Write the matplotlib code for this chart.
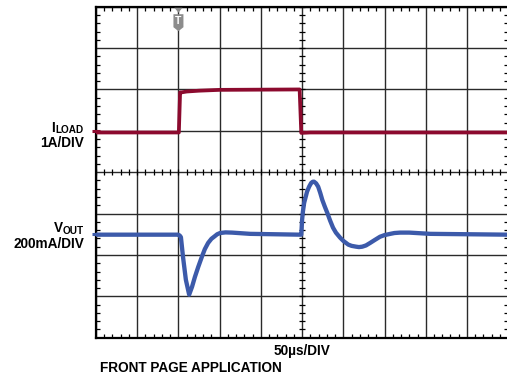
import numpy as np
import matplotlib
matplotlib.use("Agg")
import matplotlib.pyplot as plt
from matplotlib.patches import Polygon

plt.rcParams['font.family'] = ['Liberation Sans', 'DejaVu Sans']

# Scope settings
US_PER_DIV = 50          # time base, µs/div
N_HDIV, N_VDIV = 10, 8   # graticule divisions
T_TRIGGER = 100          # trigger position, µs

# Channel 1: load current (A), 1 A/div, ground at division 5
ILOAD_ZERO_DIV = 5.0
ILOAD_A_PER_DIV = 1.0
iload_t = [0, 100.5, 102, 104, 110, 125, 150, 247, 249, 260, 500]
iload_a = [-0.04, -0.04, 0.93, 0.93, 0.95, 0.97, 0.99, 1.0, -0.05, -0.04, -0.04]

# Channel 2: output voltage deviation (mV), 200 mV/div, ground at division 2.5
VOUT_ZERO_DIV = 2.5
VOUT_MV_PER_DIV = 200
vout_t = [0, 99.5, 101.5, 103, 105.5, 109, 113, 116.5, 120, 124, 128.5, 132,
          136, 140, 144.5, 147, 150.5, 157, 165, 187, 247.5,
          249, 250, 251, 252.5, 256, 258.5, 261, 263, 264.5, 267, 269.5, 272,
          274.5, 277.5, 280.5, 284, 287.5, 291, 296, 300, 306, 310, 315.5, 319,
          323, 327.5, 332.5, 338, 344.5, 350, 357, 362, 369, 380, 405.5, 500]
vout_mv = [-2, -2, -6, -14, -108, -220, -292, -254, -206, -158, -108, -72,
           -42, -22, -8, 0, 6, 9, 8, 2, -2,
           -2, 70, 110, 152, 206, 230, 248, 254, 254, 246, 230, 200,
           166, 134, 104, 66, 32, 8, -16, -32, -50, -56, -60, -62,
           -60, -54, -42, -28, -12, -4, 2, 6, 8, 8, 2, -2]

RED = '#8c0a2e'
BLUE = '#3c5aaa'
GRID = '#2a2a2a'

W, H = 507, 375
fig = plt.figure(figsize=(W / 100, H / 100), dpi=100)
ax = fig.add_axes([96 / W, (H - 337.7) / H, 412.2 / W, 331 / H])
ax.set_xlim(0, N_HDIV * US_PER_DIV)
ax.set_ylim(0, N_VDIV)

# Graticule
ax.set_xticks(np.arange(0, N_HDIV * US_PER_DIV + 1, US_PER_DIV))
ax.set_yticks(np.arange(0, N_VDIV + 1, 1))
ax.set_xticks(np.arange(0, N_HDIV * US_PER_DIV + 1, US_PER_DIV / 5), minor=True)
ax.set_yticks(np.arange(0, N_VDIV + 0.01, 0.2), minor=True)
ax.grid(True, which='major', color=GRID, lw=1.0)
ax.tick_params(which='major', length=0, labelbottom=False, labelleft=False)
ax.tick_params(which='minor', direction='in', length=3.0, width=0.9, color='k',
               top=True, right=True, bottom=True, left=True)
for s in ax.spines.values():
    s.set_linewidth(1.6)
    s.set_color('k')

# Minor ticks on the centre cross-hair
xc = N_HDIV * US_PER_DIV / 2
yc = N_VDIV / 2
xm = np.arange(0, N_HDIV * US_PER_DIV + 1, US_PER_DIV / 5)
ym = np.arange(0, N_VDIV + 0.01, 0.2)
ax.plot(xm, np.full_like(xm, yc), ls='none', marker='|', ms=4.6, mew=0.9, color='k')
ax.plot(np.full_like(ym, xc), ym, ls='none', marker='_', ms=4.6, mew=0.9, color='k')

# Traces
iload_y = ILOAD_ZERO_DIV + np.array(iload_a) / ILOAD_A_PER_DIV
vout_y = VOUT_ZERO_DIV + np.array(vout_mv) / VOUT_MV_PER_DIV
ax.plot(iload_t, iload_y, color=RED, lw=2.7, solid_joinstyle='round',
        solid_capstyle='butt', zorder=5)
ax.plot(vout_t, vout_y, color=BLUE, lw=3.1, solid_joinstyle='round',
        solid_capstyle='butt', zorder=5)

# Channel ground markers on the left edge
ax.plot([0], [ILOAD_ZERO_DIV], marker='_', ms=6, mew=2.2, color=RED, clip_on=False, zorder=6)
ax.plot([0], [VOUT_ZERO_DIV], marker='_', ms=6, mew=2.2, color=BLUE, clip_on=False, zorder=6)

# Trigger marker (sizes given in pixels, converted to data units)
px_x = (N_HDIV * US_PER_DIV) / ax.bbox.width
px_y = N_VDIV / ax.bbox.height


def tp(dx, dy):
    return (T_TRIGGER + dx * px_x, N_VDIV - dy * px_y)


tri = Polygon([tp(-4, 1), tp(4, 1), tp(0, 6)], closed=True, fc='#8c8c8c', ec='none',
              zorder=7, clip_on=False)
body = Polygon([tp(-5, 7.5), tp(5, 7.5), tp(5, 20.5), tp(0, 24.5), tp(-5, 20.5)],
               closed=True, fc='#8c8c8c', ec='none', zorder=7, clip_on=False)
ax.add_patch(tri)
ax.add_patch(body)
ax.text(*tp(0, 14.5), 'T', color='white', fontsize=7.5, fontweight='bold',
        ha='center', va='center', zorder=8)


def fx(x):
    return x / W


def fy(y):
    return (H - y) / H


FS = 9.8
FS_SUB = 7.2


def label_with_sub(main, sub, x_right, base_main, base_sub):
    t_sub = fig.text(fx(x_right), fy(base_sub), sub, fontsize=FS_SUB, fontweight='bold',
                     ha='right', va='baseline')
    fig.canvas.draw()
    bb = t_sub.get_window_extent()
    fig.text(fx(bb.x0 - 0.3), fy(base_main), main, fontsize=FS, fontweight='bold',
             ha='right', va='baseline')


label_with_sub('I', 'LOAD', 83.5, 132, 133)
fig.text(fx(84), fy(147), '1A/DIV', fontsize=FS, fontweight='bold', ha='right', va='baseline')
label_with_sub('V', 'OUT', 84, 232.5, 234)
fig.text(fx(84), fy(248), '200mA/DIV', fontsize=FS, fontweight='bold', ha='right', va='baseline')
fig.text(fx(301.5), fy(355), '50µs/DIV', fontsize=FS, fontweight='bold', ha='center', va='baseline')
fig.text(fx(100), fy(372.5), 'FRONT PAGE APPLICATION', fontsize=FS, fontweight='bold',
         ha='left', va='baseline')

fig.savefig('out.png', dpi=100)
